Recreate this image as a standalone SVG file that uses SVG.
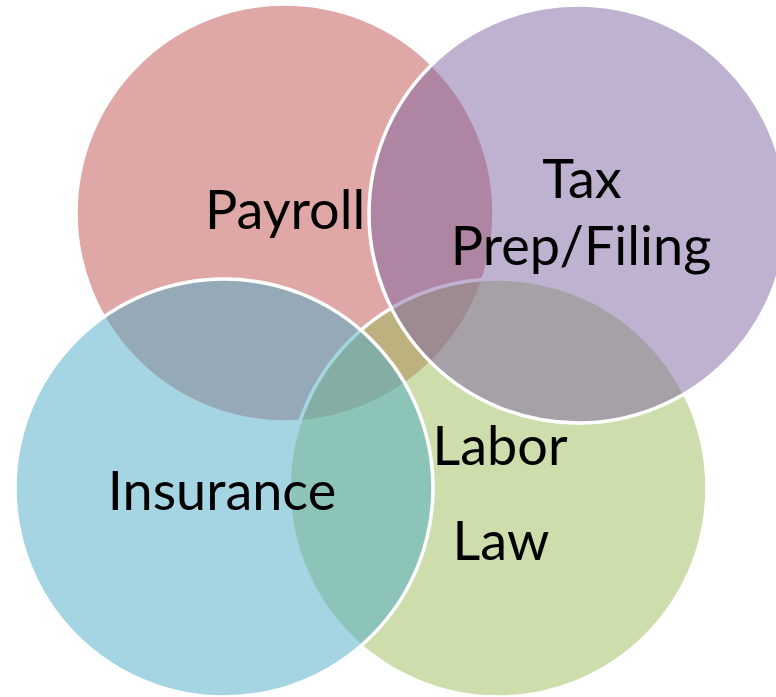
<svg xmlns="http://www.w3.org/2000/svg" width="776" height="697" viewBox="0 0 776 697">
  <style>
    .set { fill-opacity: 0.5; stroke: #ffffff; stroke-width: 3.5; }
    .label { font-family: Lato, "Open Sans", "Liberation Sans", sans-serif; font-size: 54px; fill: #000000; text-anchor: middle; }
  </style>
  <rect width="776" height="697" fill="#ffffff"/>
  <g id="payroll">
    <circle class="set" cx="285" cy="213" r="209" fill="#C0504D"/>
  </g>
  <g id="labor-law">
    <circle class="set" cx="498" cy="488" r="209" fill="#9BBB59"/>
  </g>
  <g id="insurance">
    <circle class="set" cx="224" cy="488" r="209" fill="#4BACC6"/>
  </g>
  <g id="tax-prep-filing">
    <circle class="set" cx="578" cy="214" r="209" fill="#8064A2"/>
  </g>
  <g id="labels">
    <text class="label" x="285" y="229">Payroll</text>
    <text class="label" x="582" y="198">Tax</text>
    <text class="label" x="581" y="265">Prep/Filing</text>
    <text class="label" x="500" y="465">Labor</text>
    <text class="label" x="501" y="560">Law</text>
    <text class="label" x="222" y="510">Insurance</text>
  </g>
</svg>
